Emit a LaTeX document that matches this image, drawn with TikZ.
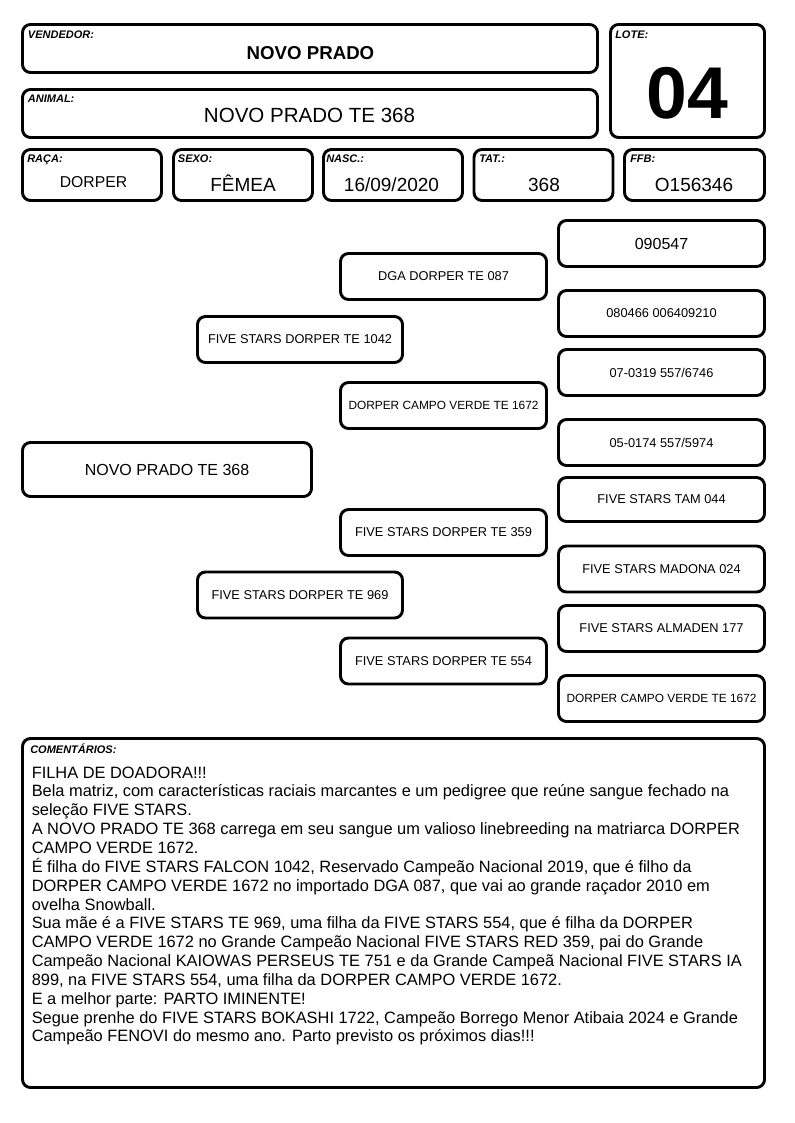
\documentclass[tikz,border=0pt]{standalone}
\usepackage{fontspec}
\setmainfont{Liberation Sans}
\begin{document}
\begin{tikzpicture}[x=0.75pt,y=-0.75pt,
  box/.style={draw, line width=2.2pt, rounded corners=6pt, inner sep=0pt},
  sz/.style 2 args={minimum width=#1*0.75pt, minimum height=#2*0.75pt},
  lbl/.style={anchor=base west, inner sep=0pt, font=\fontsize{8.25}{10}\selectfont\bfseries\itshape},
  val/.style={anchor=base, inner sep=0pt, font=\fontsize{14.25}{16}\selectfont},
  ped/.style={box, sz={206}{46}, font=\fontsize{9.6}{11}\selectfont},
  pedsmall/.style={ped, font=\fontsize{8.9}{10}\selectfont}
]
\useasboundingbox[fill=white] (0,0) rectangle (794,1123);

% header boxes
\node[box, sz={575}{48}] (vend) at (310,48.5) {};
\node[box, sz={575}{48}] (anim) at (310,113.5) {};
\node[box, sz={154}{113}] (lote) at (687.5,81) {};
\node[box, sz={139}{51}] (raca) at (92,175) {};
\node[box, sz={139}{51}] (sexo) at (243,175) {};
\node[box, sz={139}{51}] (nasc) at (393,175) {};
\node[box, sz={139}{51}] (tat) at (543.5,175) {};
\node[box, sz={140}{51}] (ffb) at (694.5,175) {};

\node[lbl] (lvend) at (27.7,39) {VENDEDOR:};
\node[val, font=\fontsize{14}{16}\selectfont\bfseries] (tvend) at (310.5,59.3) {NOVO PRADO};
\node[lbl] (lanim) at (27.7,103) {ANIMAL:};
\node[val, font=\fontsize{15.4}{18}\selectfont] (tanim) at (309.5,122.3) {NOVO PRADO TE 368};
\node[lbl] (llote) at (615,39) {LOTE:};
\node[val, font=\fontsize{55}{60}\selectfont\bfseries] (tlote) at (687.5,119) {04};

\node[lbl] (lraca) at (27,163) {RAÇA:};
\node[lbl] (lsexo) at (177.7,163) {SEXO:};
\node[lbl] (lnasc) at (326,163) {NASC.:};
\node[lbl] (ltat) at (479,163) {TAT.:};
\node[lbl] (lffb) at (630,163) {FFB:};

\node[val, font=\fontsize{11.8}{14}\selectfont] (traca) at (93.5,187.7) {DORPER};
\node[val] (tsexo) at (243,191.7) {FÊMEA};
\node[val] (tnasc) at (391.5,191.7) {16/09/2020};
\node[val] (ttat) at (544,191.7) {368};
\node[val] (tffb) at (694,191.7) {O156346};

% pedigree
\node[box, sz={289}{54}, font=\fontsize{12}{14}\selectfont] (subj) at (167,469.5) {NOVO PRADO TE 368};

\node[ped, sz={205}{46}] (sire) at (300,339.5) {FIVE STARS DORPER TE 1042};
\node[ped, sz={205}{46}] (dam) at (300,595) {FIVE STARS DORPER TE 969};

\node[ped] (ss) at (443.5,276.5) {DGA DORPER TE 087};
\node[pedsmall] (sd) at (443.5,405.5) {DORPER CAMPO VERDE TE 1672};
\node[ped] (ds) at (443.5,532.5) {FIVE STARS DORPER TE 359};
\node[ped] (dd) at (443.5,661) {FIVE STARS DORPER TE 554};

\node[ped, font=\fontsize{12}{14}\selectfont] (sss) at (661.5,243.5) {090547};
\node[ped] (ssd) at (661.5,313.5) {080466 006409210};
\node[ped] (sds) at (661.5,372.5) {07-0319 557/6746};
\node[ped] (sdd) at (661.5,442.5) {05-0174 557/5974};
\node[ped, sz={206}{44}] (dss) at (661.5,499.5) {FIVE STARS TAM 044};
\node[ped] (dsd) at (661.5,569) {FIVE STARS MADONA 024};
\node[ped] (dds) at (661.5,628.5) {FIVE STARS ALMADEN 177};
\node[pedsmall] (ddd) at (661.5,698.5) {DORPER CAMPO VERDE TE 1672};

% comments
\node[box, sz={742}{349}] (com) at (393.5,913) {};
\node[lbl] (lcom) at (30,753) {COMENTÁRIOS:};
\node[anchor=north west, inner sep=0pt, align=left, font=\fontsize{12.3}{14.14}\selectfont] (tcom) at (31.5,766.3) {FILHA DE DOADORA!!!\\
Bela matriz, com características raciais marcantes e um pedigree que reúne sangue fechado na\\
seleção FIVE STARS.\\
A NOVO PRADO TE 368 carrega em seu sangue um valioso linebreeding na matriarca DORPER\\
CAMPO VERDE 1672.\\
É filha do FIVE STARS FALCON 1042, Reservado Campeão Nacional 2019, que é filho da\\
DORPER CAMPO VERDE 1672 no importado DGA 087, que vai ao grande raçador 2010 em\\
ovelha Snowball.\\
Sua mãe é a FIVE STARS TE 969, uma filha da FIVE STARS 554, que é filha da DORPER\\
CAMPO VERDE 1672 no Grande Campeão Nacional FIVE STARS RED 359, pai do Grande\\
Campeão Nacional KAIOWAS PERSEUS TE 751 e da Grande Campeã Nacional FIVE STARS IA\\
899, na FIVE STARS 554, uma filha da DORPER CAMPO VERDE 1672.\\
E a melhor parte: PARTO IMINENTE!\\
Segue prenhe do FIVE STARS BOKASHI 1722, Campeão Borrego Menor Atibaia 2024 e Grande\\
Campeão FENOVI do mesmo ano. Parto previsto os próximos dias!!!};
\end{tikzpicture}
\end{document}
